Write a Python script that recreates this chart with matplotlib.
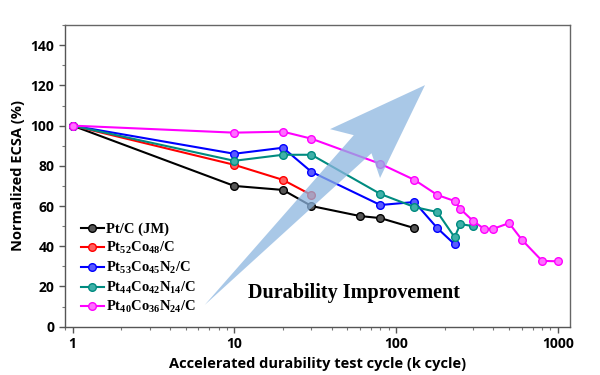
import matplotlib
matplotlib.use('Agg')
import matplotlib.pyplot as plt
from matplotlib.patches import Polygon
from matplotlib.ticker import LogLocator, MultipleLocator, FixedLocator, FixedFormatter

plt.rcParams['mathtext.fontset'] = 'custom'
plt.rcParams['mathtext.rm'] = 'Liberation Serif:bold'
plt.rcParams['mathtext.it'] = 'Liberation Serif:bold'
plt.rcParams['mathtext.bf'] = 'Liberation Serif:bold'

# data
ptc_x = [1, 10, 20, 30, 60, 80, 130]
ptc_y = [100, 70, 68, 60, 55, 54, 49]

ptco_x = [1, 10, 20, 30]
ptco_y = [100, 80.5, 73, 65.5]

n2_x = [1, 10, 20, 30, 80, 130, 180, 230]
n2_y = [100, 86, 89, 77, 60.5, 62, 49, 41]

n14_x = [1, 10, 20, 30, 80, 130, 180, 230, 250, 300]
n14_y = [100, 82.5, 85.5, 85.5, 66, 59.5, 57, 44.5, 51, 50]

n24_x = [1, 10, 20, 30, 80, 130, 180, 230, 250, 300, 350, 400, 500, 600, 800, 1000]
n24_y = [100, 96.5, 97, 93.5, 81, 73, 65.5, 62.5, 58.5, 52.5, 48.7, 48.7, 51.5, 43.2, 32.7, 32.5]

labels = ['Pt/C (JM)',
          r'Pt$_{52}$Co$_{48}$/C',
          r'Pt$_{53}$Co$_{45}$N$_{2}$/C',
          r'Pt$_{44}$Co$_{42}$N$_{14}$/C',
          r'Pt$_{40}$Co$_{36}$N$_{24}$/C']
colors = ['#000000', '#FF0000', '#0000FF', '#008B80', '#FF00FF']
faces = ['#555555', '#FF6060', '#5A5AFF', '#3FB0A8', '#FF70FF']

xticks = [1, 10, 100, 1000]
xticklabels = ['1', '10', '100', '1000']
yticks = [0, 20, 40, 60, 80, 100, 120, 140]

fig = plt.figure(figsize=(6, 3.75), dpi=100)
ax = fig.add_axes([0.108, 0.129, 0.842, 0.804])

series = [(ptc_x, ptc_y), (ptco_x, ptco_y), (n2_x, n2_y), (n14_x, n14_y), (n24_x, n24_y)]
for (xs, ys), lab, c, fc in zip(series, labels, colors, faces):
    ax.plot(xs, ys, '-o', color=c, lw=1.5, ms=5.5, mfc=fc, mec=c, mew=1.0,
            label=lab, zorder=3)

ax.set_xscale('log')
ax.set_xlim(0.896, 1190)
ax.set_ylim(0, 150)

ax.xaxis.set_major_locator(FixedLocator(xticks))
ax.xaxis.set_major_formatter(FixedFormatter(xticklabels))
ax.xaxis.set_minor_locator(LogLocator(base=10, subs=range(2, 10)))
ax.yaxis.set_major_locator(FixedLocator(yticks))
ax.yaxis.set_minor_locator(MultipleLocator(10))

for s in ['top', 'right']:
    ax.spines[s].set_color('#666666')
    ax.spines[s].set_linewidth(1.0)
for s in ['left', 'bottom']:
    ax.spines[s].set_color('#555555')
    ax.spines[s].set_linewidth(1.0)
ax.tick_params(which='major', direction='out', length=4, width=1, color='#555555',
               top=False, right=False)
ax.tick_params(which='minor', direction='out', length=2.5, width=0.8, color='#777777',
               top=False, right=False)

for t in ax.get_xticklabels() + ax.get_yticklabels():
    t.set_fontfamily('Open Sans')
    t.set_fontweight('bold')
    t.set_fontsize(10)

ax.set_xlabel('Accelerated durability test cycle (k cycle)', family='Open Sans',
              fontweight='bold', fontsize=10.5, labelpad=4)
ax.set_ylabel('Normalized ECSA (%)', family='Open Sans', fontweight='bold',
              fontsize=10.5, labelpad=4)

# big translucent arrow (axes fraction)
arrow = Polygon([(0.277, 0.072), (0.607, 0.575), (0.624, 0.493), (0.713, 0.801),
                 (0.525, 0.655), (0.572, 0.635)],
                closed=True, transform=ax.transAxes, facecolor='#8DB6E0',
                edgecolor='none', alpha=0.75, zorder=4)
ax.add_patch(arrow)

ax.text(0.572, 0.112, 'Durability Improvement', transform=ax.transAxes,
        ha='center', va='center', family='Liberation Serif', fontweight='bold',
        fontsize=14.5, zorder=5)

leg = ax.legend(loc='lower left', bbox_to_anchor=(0.014, 0.008), frameon=False,
                prop={'family': 'Liberation Serif', 'weight': 'bold', 'size': 10.5},
                handlelength=1.6, handletextpad=0.15, labelspacing=0.25,
                borderaxespad=0.2)

fig.savefig('out.png', dpi=100)
